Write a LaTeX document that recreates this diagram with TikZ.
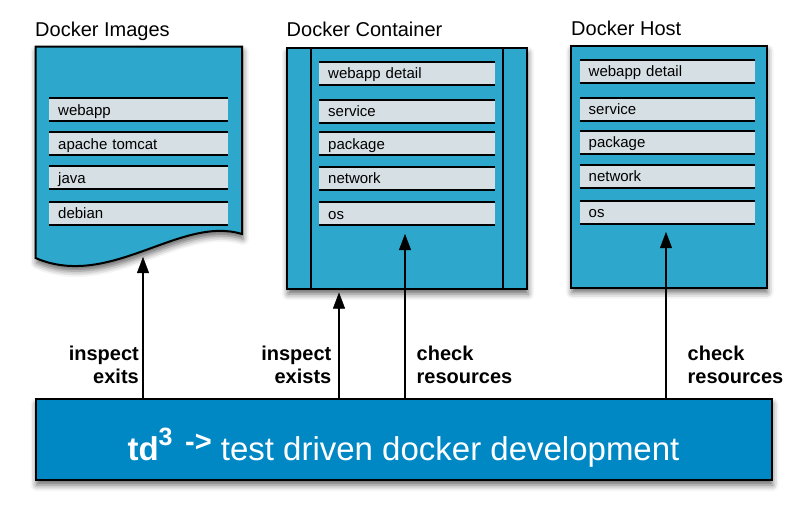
\documentclass[tikz,border=0pt]{standalone}
\usepackage{fontspec}
\setmainfont{Liberation Sans}
\usepackage{tikz}
\usetikzlibrary{arrows.meta,shadows.blur}

\definecolor{boxblue}{RGB}{45,167,204}
\definecolor{barblue}{RGB}{0,136,197}
\definecolor{rowgray}{RGB}{214,223,228}

\tikzset{
  title/.style={anchor=base west, inner sep=0pt, font=\fontsize{20}{24}\selectfont},
  panel/.style={draw=black, line width=2pt, fill=boxblue, blur shadow={shadow xshift=1pt, shadow yshift=-5pt, shadow blur radius=6pt, shadow opacity=60}},
  layer/.style={fill=rowgray, anchor=north west, minimum height=23pt, inner ysep=0pt, inner xsep=9pt, text height=11pt, text depth=0pt, align=left, font=\fontsize{15}{18}\selectfont},
  layerline/.style={line width=2pt},
  link/.style={line width=1.3pt, -{Triangle[length=16pt,width=12pt,fill=black,line width=0.4pt]}},
  note/.style={inner sep=0pt, font=\fontsize{20}{23}\selectfont\bfseries},
}

\begin{document}
\begin{tikzpicture}[x=1pt, y=-1pt]
  \useasboundingbox (0,0) rectangle (805,522);

  \node[title] (imagestitle) at (35,36.7) {Docker Images};
  \node[title] (containertitle) at (286.5,36.7) {Docker Container};
  \node[title] (hosttitle) at (571,35) {Docker Host};

  \path[panel] (35.5,46.5) -- (242,46.5) -- (242,234) .. controls (180,215) and (110,290) .. (35.5,258) -- cycle;
  \node[panel, anchor=north west, minimum width=240pt, minimum height=241pt] (container) at (286,47) {};
  \draw[line width=1.5pt] ([xshift=25pt]container.north west) -- ([xshift=25pt]container.south west);
  \draw[line width=1.5pt] ([xshift=-25pt]container.north east) -- ([xshift=-25pt]container.south east);
  \node[panel, anchor=north west, minimum width=195.5pt, minimum height=242pt] (host) at (570,44.5) {};

  \node[layer, text width=161pt] (i1) at (49,98) {webapp};
  \node[layer, text width=161pt] (i2) at (49,132) {apache tomcat};
  \node[layer, text width=161pt] (i3) at (49,166) {java};
  \node[layer, text width=161pt] (i4) at (49,201.5) {debian};

  \node[layer, text width=158pt] (c1) at (319,61.5) {webapp detail};
  \node[layer, text width=158pt] (c2) at (319,99.5) {service};
  \node[layer, text width=158pt] (c3) at (319,132) {package};
  \node[layer, text width=158pt] (c4) at (319,166.5) {network};
  \node[layer, text width=158pt] (c5) at (319,202) {os};

  \node[layer, text width=157.5pt] (h1) at (579.5,59.5) {webapp detail};
  \node[layer, text width=157.5pt] (h2) at (579.5,97.5) {service};
  \node[layer, text width=157.5pt] (h3) at (579.5,130.5) {package};
  \node[layer, text width=157.5pt] (h4) at (579.5,164.5) {network};
  \node[layer, text width=157.5pt] (h5) at (579.5,200.5) {os};

  \foreach \r in {i1,i2,i3,i4,c1,c2,c3,c4,c5,h1,h2,h3,h4,h5}
    \draw[layerline] (\r.north west) -- (\r.north east) (\r.south west) -- (\r.south east);

  \node[panel, fill=barblue, minimum width=736pt, minimum height=81pt, text height=41pt, text depth=0pt, text=white, font=\fontsize{33}{38}\selectfont] (bar) at (403.5,439.5)
    {\textbf{td}\raisebox{15pt}{\fontsize{25}{28}\selectfont\bfseries 3\hspace{0.5em}}\raisebox{9pt}{\fontsize{29}{30}\selectfont\bfseries ->} test driven docker development};

  \coordinate (imgtip) at (143,257);
  \coordinate (ctip) at (339,292.5);
  \coordinate (ostip) at (405,234);
  \coordinate (htip) at (666,232);
  \draw[link] (bar.north -| imgtip) -- (imgtip);
  \draw[link] (bar.north -| ctip) -- (ctip);
  \draw[link] (bar.north -| ostip) -- (ostip);
  \draw[link] (bar.north -| htip) -- (htip);

  \node[note, anchor=north east, align=right] (n1) at (139,345.7) {inspect\\exits};
  \node[note, anchor=north east, align=right] (n2) at (331.5,345.7) {inspect\\exists};
  \node[note, anchor=north west, align=left] (n3) at (416.5,345.7) {check\\resources};
  \node[note, anchor=north west, align=left] (n4) at (687.5,345.7) {check\\resources};
\end{tikzpicture}
\end{document}
